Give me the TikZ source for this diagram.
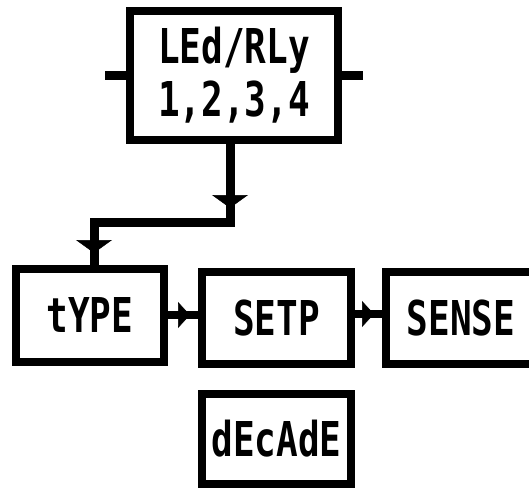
\documentclass[tikz,border=0pt]{standalone}
\usepackage{fontspec}
\newfontfamily\lcd[FakeStretch=0.75]{DejaVu Sans Mono}
\usetikzlibrary{arrows.meta,decorations.markings}
\tikzset{
  box/.style={draw, line width=8pt, inner sep=0pt, align=center,
    font=\lcd\bfseries\fontsize{48}{53}\selectfont},
  conn/.style={line width=9pt, line join=miter},
  vtip/.tip={Triangle[length=13pt,width=36pt,line width=0.5pt]},
  htip/.tip={Triangle[length=12pt,width=26pt,line width=0.5pt]},
  markat/.style 2 args={postaction={decorate},
    decoration={markings, mark=at position #1 with {\arrow{#2}}}},
}
\begin{document}
\begin{tikzpicture}[x=1pt,y=-1pt]
\clip (0,0) rectangle (529,489);
\useasboundingbox (0,0) rectangle (529,489);
\fill[white] (0,0) rectangle (529,489);

\node[box, minimum width=208pt, minimum height=129pt] (top) at (234,75.5) {LEd/RLy\\1,2,3,4};
\node[box, minimum width=148pt, minimum height=93pt] (type) at (90,315.5) {tYPE};
\node[box, minimum width=149pt, minimum height=92pt] (setp) at (276.5,318) {SETP};
\node[box, minimum width=150pt, minimum height=92pt] (sense) at (461,318) {SENSE};
\node[box, minimum width=149pt, minimum height=90pt] (decade) at (276.5,439) {dEcAdE};

\coordinate (ls) at (105,76);
\coordinate (rs) at (363,76);
\coordinate (c1) at (230,222);
\coordinate (c2) at (94,222);

\draw[conn] (top.west |- ls) -- (ls);
\draw[conn] (top.east |- rs) -- (rs);

\draw[conn, markat={64pt}{vtip}] (top.south -| c1) -- (c1) -- (c2) -- (c2 |- type.north);
\draw[conn, line width=8pt, markat={-12pt}{vtip}] (c2) -- (c2 |- type.north);

\draw[conn, line width=8pt, markat={-8pt}{htip}] (type.east |- 0,315) -- (setp.west |- 0,315);
\draw[conn, line width=8pt, markat={-8pt}{htip}] (setp.east |- 0,314) -- (sense.west |- 0,314);
\end{tikzpicture}
\end{document}
